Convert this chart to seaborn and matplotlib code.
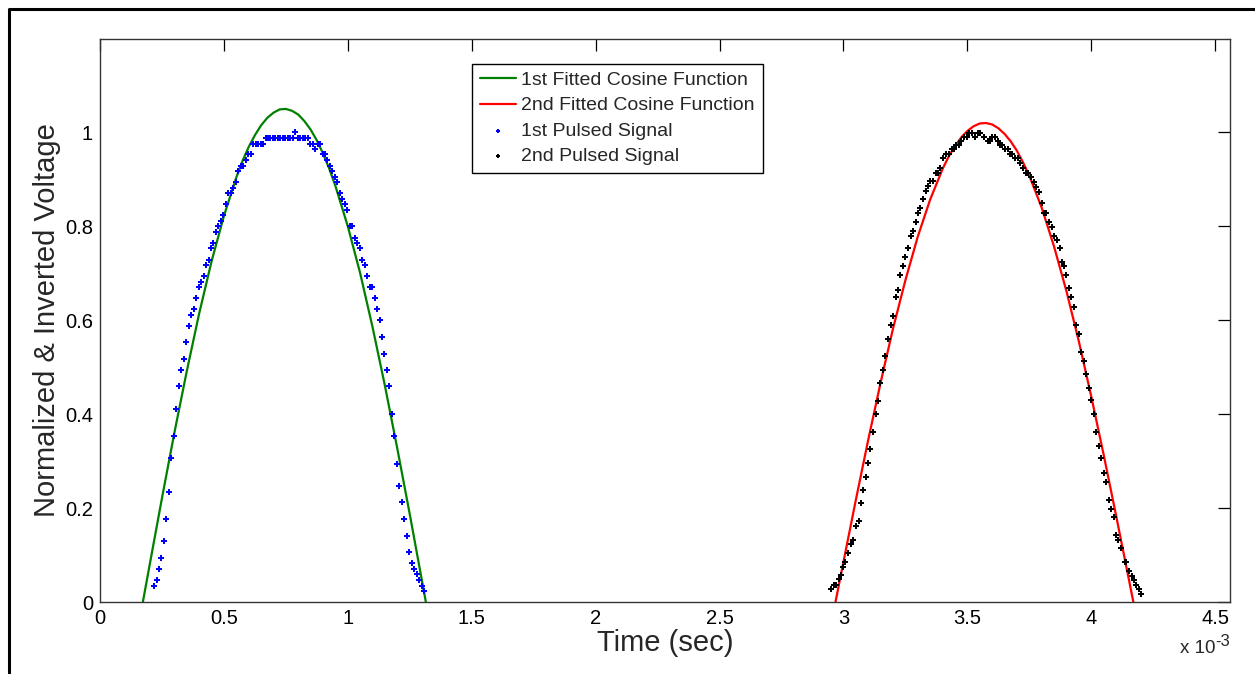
import numpy as np
import pandas as pd
import matplotlib
matplotlib.use('Agg')
import matplotlib.pyplot as plt
from matplotlib.lines import Line2D
import seaborn as sns

# ==========================================
# DATA (time in ms, voltage normalized)
# ==========================================
# 1st fitted cosine (green)
fit1_t = [0.173, 0.20, 0.25, 0.30, 0.35, 0.40, 0.45, 0.50, 0.55, 0.575, 0.60, 0.625, 0.65,
          0.675, 0.70, 0.725, 0.75, 0.775, 0.80, 0.825, 0.85, 0.875, 0.90, 0.925, 0.95,
          1.00, 1.05, 1.10, 1.15, 1.20, 1.25, 1.30, 1.315]
fit1_v = [0.000, 0.078, 0.221, 0.360, 0.491, 0.614, 0.725, 0.822, 0.904, 0.939, 0.969, 0.994, 1.015,
          1.031, 1.042, 1.049, 1.050, 1.046, 1.038, 1.024, 1.006, 0.983, 0.955, 0.923, 0.886,
          0.800, 0.700, 0.585, 0.460, 0.326, 0.187, 0.043, 0.000]

# 2nd fitted cosine (red)
fit2_t = [2.968, 3.00, 3.05, 3.10, 3.15, 3.20, 3.25, 3.30, 3.35, 3.40, 3.425, 3.45, 3.475,
          3.50, 3.525, 3.55, 3.575, 3.60, 3.625, 3.65, 3.675, 3.70, 3.725, 3.75, 3.80,
          3.85, 3.90, 3.95, 4.00, 4.05, 4.10, 4.15, 4.17]
fit2_v = [0.000, 0.085, 0.217, 0.345, 0.467, 0.582, 0.685, 0.778, 0.857, 0.922, 0.949, 0.971, 0.989,
          1.003, 1.013, 1.019, 1.020, 1.017, 1.009, 0.997, 0.981, 0.961, 0.936, 0.908, 0.840,
          0.757, 0.662, 0.555, 0.438, 0.314, 0.185, 0.053, 0.000]

# 1st pulsed signal (blue dots), sample times in microseconds
sig1_t_us = [218, 228, 238, 248, 258, 268, 278, 288, 298, 308,
             318, 328, 338, 348, 358, 368, 378, 388, 398, 408,
             418, 428, 438, 448, 458, 468, 478, 488, 498, 508,
             518, 528, 538, 548, 558, 568, 578, 588, 598, 608,
             618, 628, 638, 648, 658, 668, 678, 688, 698, 708,
             718, 728, 738, 748, 758, 768, 778, 788, 798, 808,
             818, 828, 838, 848, 858, 868, 878, 888, 898, 908,
             918, 928, 938, 948, 958, 968, 978, 988, 998, 1008,
             1018, 1028, 1038, 1048, 1058, 1068, 1078, 1088, 1098, 1108,
             1118, 1128, 1138, 1148, 1158, 1168, 1178, 1188, 1198, 1208,
             1218, 1228, 1238, 1248, 1258, 1268, 1278, 1288, 1298, 1308]
sig1_v = [0.035, 0.047, 0.071, 0.094, 0.129, 0.176, 0.235, 0.306, 0.353, 0.412,
          0.459, 0.494, 0.518, 0.553, 0.588, 0.612, 0.624, 0.647, 0.671, 0.682,
          0.694, 0.718, 0.729, 0.753, 0.765, 0.788, 0.800, 0.812, 0.824, 0.847,
          0.871, 0.871, 0.882, 0.894, 0.918, 0.929, 0.929, 0.941, 0.953, 0.953,
          0.976, 0.976, 0.976, 0.976, 0.976, 0.988, 0.988, 0.988, 0.988, 0.988,
          0.988, 0.988, 0.988, 0.988, 0.988, 0.988, 0.988, 1.000, 0.988, 0.988,
          0.988, 0.988, 0.988, 0.976, 0.976, 0.965, 0.976, 0.976, 0.953, 0.953,
          0.941, 0.929, 0.918, 0.906, 0.894, 0.871, 0.859, 0.847, 0.835, 0.800,
          0.800, 0.776, 0.765, 0.753, 0.729, 0.718, 0.694, 0.671, 0.671, 0.647,
          0.624, 0.600, 0.565, 0.529, 0.494, 0.459, 0.400, 0.353, 0.294, 0.247,
          0.212, 0.176, 0.141, 0.106, 0.082, 0.071, 0.059, 0.047, 0.035, 0.024]

# 2nd pulsed signal (black dots), times in ms
sig2_t = [2.949, 2.961, 2.972, 2.982, 2.991, 3.000, 3.008, 3.019, 3.030, 3.040,
          3.051, 3.061, 3.070, 3.081, 3.091, 3.099, 3.109, 3.121, 3.130, 3.138,
          3.149, 3.161, 3.169, 3.180, 3.192, 3.199, 3.211, 3.219, 3.230, 3.239,
          3.250, 3.261, 3.273, 3.281, 3.292, 3.302, 3.309, 3.321, 3.332, 3.340,
          3.351, 3.362, 3.372, 3.383, 3.391, 3.402, 3.414, 3.425, 3.437, 3.448,
          3.456, 3.466, 3.475, 3.485, 3.499, 3.507, 3.520, 3.531, 3.542, 3.553,
          3.566, 3.582, 3.593, 3.601, 3.612, 3.622, 3.630, 3.641, 3.652, 3.663,
          3.671, 3.682, 3.692, 3.706, 3.714, 3.725, 3.735, 3.746, 3.757, 3.768,
          3.778, 3.789, 3.801, 3.811, 3.819, 3.829, 3.842, 3.851, 3.862, 3.873,
          3.881, 3.890, 3.900, 3.910, 3.920, 3.930, 3.938, 3.951, 3.960, 3.969,
          3.980, 3.991, 4.000, 4.011, 4.021, 4.030, 4.041, 4.050, 4.061, 4.070,
          4.081, 4.092, 4.098, 4.109, 4.121, 4.135, 4.141, 4.152, 4.163, 4.171,
          4.182, 4.192, 4.201]
sig2_v = [0.028, 0.037, 0.037, 0.048, 0.058, 0.075, 0.086, 0.105, 0.123, 0.133,
          0.162, 0.172, 0.210, 0.238, 0.266, 0.295, 0.325, 0.361, 0.400, 0.429,
          0.466, 0.495, 0.524, 0.561, 0.590, 0.610, 0.649, 0.664, 0.696, 0.715,
          0.735, 0.754, 0.780, 0.790, 0.810, 0.829, 0.838, 0.858, 0.876, 0.886,
          0.896, 0.896, 0.914, 0.914, 0.925, 0.945, 0.954, 0.954, 0.964, 0.964,
          0.973, 0.973, 0.982, 0.991, 0.991, 0.999, 0.999, 0.991, 0.999, 0.999,
          0.991, 0.982, 0.982, 0.991, 0.991, 0.982, 0.973, 0.973, 0.964, 0.964,
          0.954, 0.954, 0.945, 0.945, 0.934, 0.925, 0.914, 0.914, 0.904, 0.894,
          0.884, 0.874, 0.849, 0.829, 0.829, 0.810, 0.799, 0.780, 0.771, 0.754,
          0.725, 0.715, 0.696, 0.668, 0.649, 0.629, 0.590, 0.571, 0.533, 0.514,
          0.485, 0.456, 0.430, 0.400, 0.361, 0.333, 0.306, 0.275, 0.256, 0.217,
          0.199, 0.180, 0.143, 0.132, 0.114, 0.086, 0.086, 0.066, 0.056, 0.047,
          0.036, 0.027, 0.017]

x_ticks_ms = [0, 0.5, 1, 1.5, 2, 2.5, 3, 3.5, 4, 4.5]
x_tick_labels = ['0', '0.5', '1', '1.5', '2', '2.5', '3', '3.5', '4', '4.5']
y_ticks = [0, 0.2, 0.4, 0.6, 0.8, 1.0]
y_tick_labels = ['0', '0.2', '0.4', '0.6', '0.8', '1']

# build frames, time in seconds
fit1 = pd.DataFrame({'t': np.array(fit1_t) * 1e-3, 'v': fit1_v})
fit2 = pd.DataFrame({'t': np.array(fit2_t) * 1e-3, 'v': fit2_v})
sig1 = pd.DataFrame({'t': np.array(sig1_t_us) * 1e-6, 'v': sig1_v})
sig2 = pd.DataFrame({'t': np.array(sig2_t) * 1e-3, 'v': sig2_v})

# ==========================================
# STYLE
# ==========================================
sns.set_theme(style='white')
plt.rcParams['font.family'] = ['Liberation Sans', 'DejaVu Sans']

fig = plt.figure(figsize=(12.55, 6.74), dpi=100)
fig.patch.set_facecolor('white')
ax = fig.add_axes([100 / 1255, 72 / 674, 1130 / 1255, 563.5 / 674])

# ==========================================
# PLOT
# ==========================================
sns.lineplot(data=fit1, x='t', y='v', ax=ax, color='#008000', linewidth=1.6,
             estimator=None, sort=False, label='1st Fitted Cosine Function')
sns.lineplot(data=fit2, x='t', y='v', ax=ax, color='#ff0000', linewidth=1.6,
             estimator=None, sort=False, label='2nd Fitted Cosine Function')
sns.scatterplot(data=sig1, x='t', y='v', ax=ax, color='#0000ff', marker='P',
                s=18, linewidth=0, label='1st Pulsed Signal', zorder=3)
sns.scatterplot(data=sig2, x='t', y='v', ax=ax, color='black', marker='P',
                s=18, linewidth=0, label='2nd Pulsed Signal', zorder=3)

ax.set_xlim(0, 4.56e-3)
ax.set_ylim(0, 1.2)
ax.set_xticks(np.array(x_ticks_ms) * 1e-3)
ax.set_xticklabels(x_tick_labels)
ax.set_yticks(y_ticks)
ax.set_yticklabels(y_tick_labels)
ax.tick_params(direction='in', length=8.5, width=0.9, labelsize=14.5, colors='black',
               top=True, right=True, pad=5)
for sp in ax.spines.values():
    sp.set_visible(True)
    sp.set_color('#333333')
    sp.set_linewidth(1.0)

ax.set_xlabel('Time (sec)', fontsize=21, labelpad=1)
ax.set_ylabel('Normalized & Inverted Voltage', fontsize=21, labelpad=3)

# MATLAB-style exponent under the x axis
ax.annotate('x 10', xy=(1, 0), xycoords='axes fraction', xytext=(-15, -51),
            textcoords='offset pixels', ha='right', va='baseline', fontsize=13.5)
ax.annotate('-3', xy=(1, 0), xycoords='axes fraction', xytext=(0, -44),
            textcoords='offset pixels', ha='right', va='baseline', fontsize=12)

leg = ax.legend(loc='upper left', bbox_to_anchor=(0.329, 0.955), fontsize=14,
                frameon=True, fancybox=False, framealpha=1, edgecolor='black',
                handlelength=1.85, handletextpad=0.3, labelspacing=0.39,
                borderpad=0.4, borderaxespad=0, markerscale=0.6)
leg.get_frame().set_linewidth(1.0)

# outer figure border (cropped at right and bottom)
fig.add_artist(Line2D([9 / 1255, 9 / 1255, 1.01], [-0.01, 1 - 9 / 674, 1 - 9 / 674],
                      transform=fig.transFigure, color='black', linewidth=2.2))

fig.savefig('out.png', dpi=100, facecolor='white')
